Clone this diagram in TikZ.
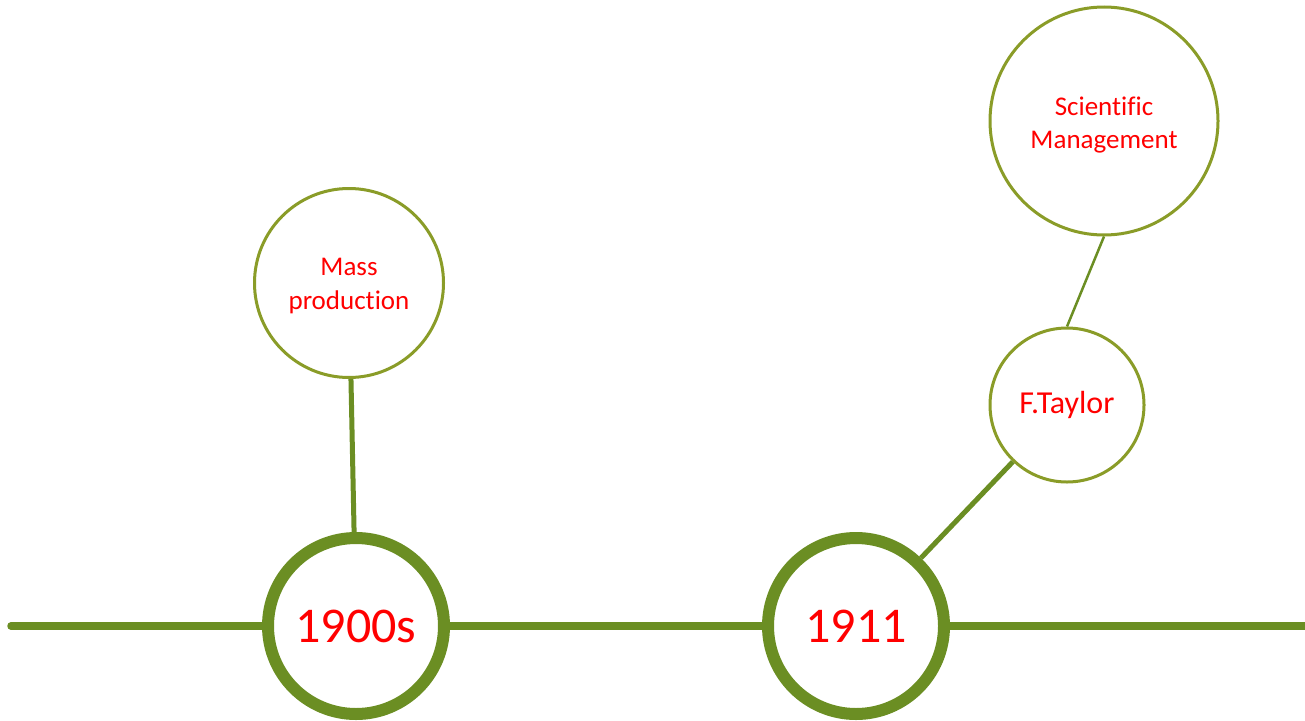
\documentclass[tikz,border=0pt]{standalone}
\usepackage{fontspec}
\setmainfont{Carlito}[Ligatures=NoCommon]
\definecolor{olivedark}{RGB}{107,142,35}
\definecolor{olivelight}{RGB}{138,156,40}
\definecolor{txtred}{RGB}{255,0,0}
\tikzset{
  year/.style={circle, draw=olivedark, line width=12pt, fill=white, minimum size=176pt, inner sep=0pt, text=txtred, font=\fontsize{50}{56}\selectfont},
  event/.style={circle, draw=olivelight, line width=3pt, fill=white, inner sep=0pt, text=txtred, align=center},
  axis/.style={draw=olivedark, line width=7.5pt},
  link/.style={draw=olivedark, line width=5pt},
  thinlink/.style={draw=olivedark, line width=2.5pt}
}
\begin{document}
\begin{tikzpicture}[x=1pt,y=-1pt]
\useasboundingbox (0,0) rectangle (1305,720);
\node[year] (c1) at (356,626) {1900s};
\node[year] (c2) at (856,626) {1911};
\node[event, minimum size=189pt, font=\fontsize{27}{34}\selectfont] (mp) at (349,283) {\raisebox{-3pt}[\height][\depth]{\begin{tabular}{@{}c@{}}Mass\\production\end{tabular}}};
\node[event, minimum size=154pt, font=\fontsize{32}{38}\selectfont] (ft) at (1067,405) {F.Taylor};
\node[event, minimum size=228pt, font=\fontsize{27}{33}\selectfont] (sm) at (1104,121) {\raisebox{-4pt}[\height][\depth]{\begin{tabular}{@{}c@{}}Scientific\\Management\end{tabular}}};
\coordinate (start) at (11,626);
\coordinate (end) at (1310,626);
\draw[axis, line cap=round] (start) -- (c1);
\draw[axis] (c1) -- (c2);
\draw[axis] (c2) -- (end);
\draw[link] (mp) -- (c1);
\draw[link] (ft) -- (c2);
\draw[thinlink] (sm.south) -- (ft.north);
\end{tikzpicture}
\end{document}
